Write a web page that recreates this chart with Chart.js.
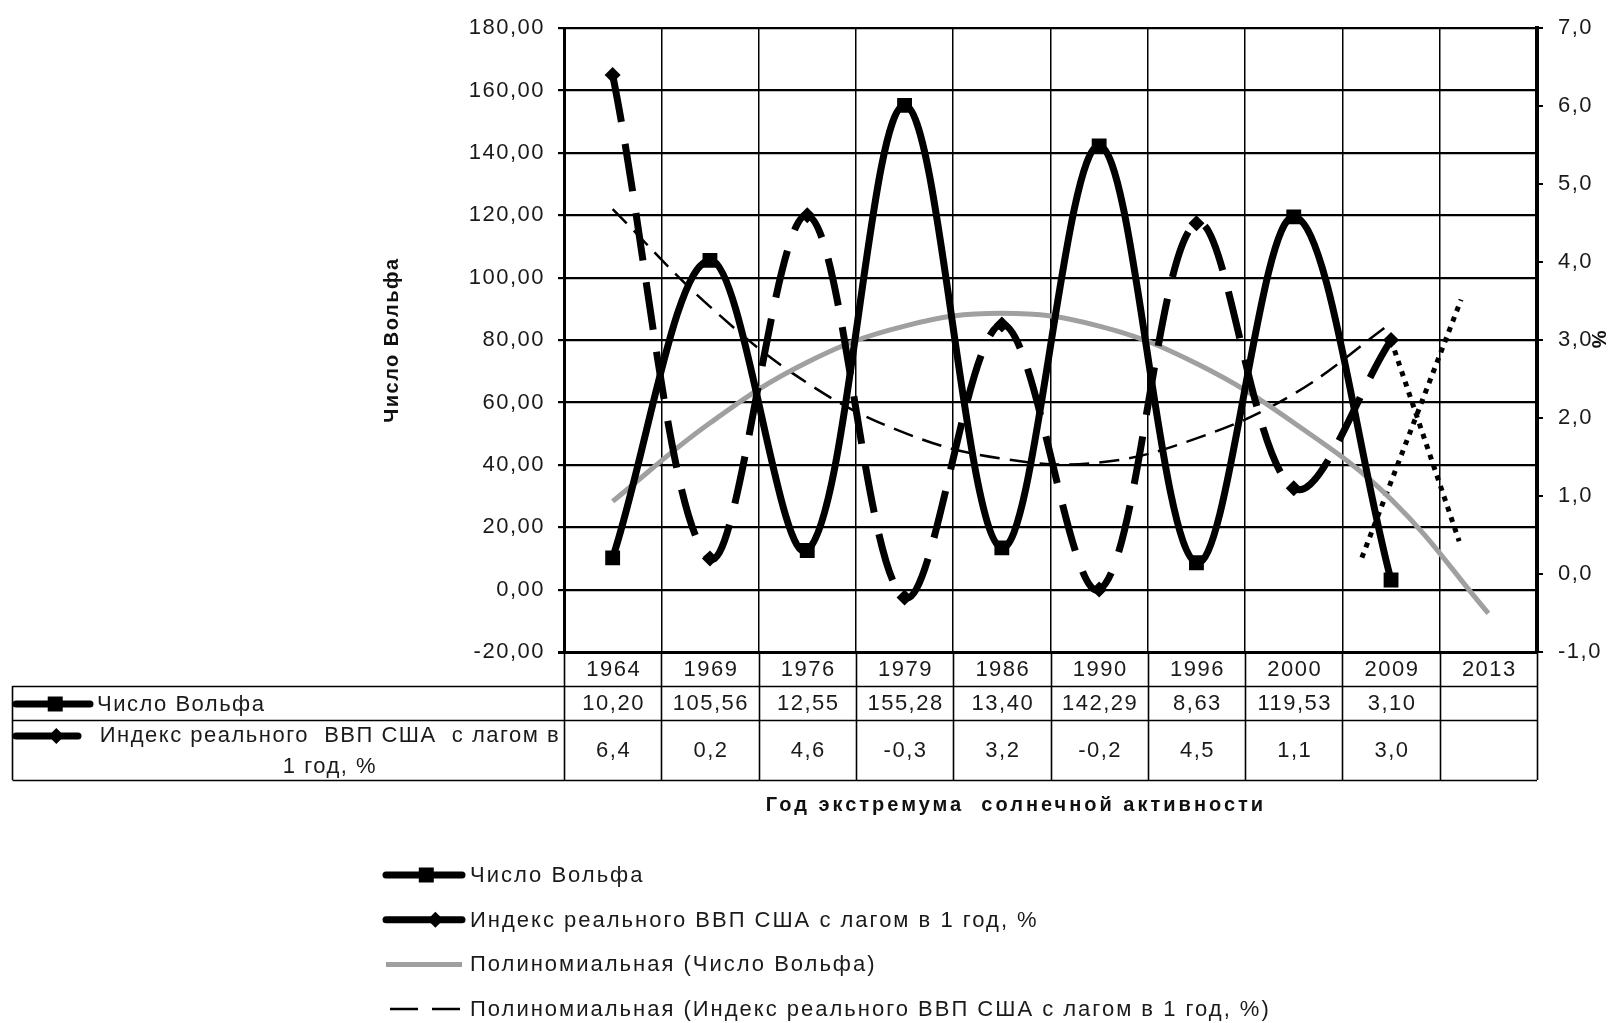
<!DOCTYPE html>
<html>
<head>
<meta charset="utf-8">
<title>Число Вольфа и индекс ВВП США</title>
<script src="https://cdn.jsdelivr.net/npm/chart.js@4.4.1/dist/chart.umd.min.js"></script>
<style>
  html, body { margin: 0; padding: 0; background: #fff; }
  #wrap { width: 1610px; height: 1023px; position: relative; }
</style>
</head>
<body>
<div id="wrap"><canvas id="solarChart"></canvas></div>
<script>
/*
  Solar activity (Wolf number) vs. US real GDP index, with the data table
  and legend drawn under the plot.
*/
const years = ["1964", "1969", "1976", "1979", "1986", "1990", "1996", "2000", "2009", "2013"];
const wolfNumber = [10.20, 105.56, 12.55, 155.28, 13.40, 142.29, 8.63, 119.53, 3.10, null];
const gdpIndex = [6.4, 0.2, 4.6, -0.3, 3.2, -0.2, 4.5, 1.1, 3.0, null];

// trend lines, one value per year column
const wolfTrend = [28.3, 53.4, 72.9, 84.5, 88.6, 84.5, 72.5, 53.5, 29, -7.6];
const gdpTrend = [4.68, 3.43, 2.45, 1.81, 1.48, 1.43, 1.74, 2.31, 3.22, null];

// the two dotted strokes near 2009-2013 (column index, % axis)
const riseX = [7.7, 8.72];
const riseY = [0.21, 3.52];
const fallX = [8.0, 8.7];
const fallY = [3.0, 0.42];

const wolfLabel = "Число Вольфа";
const gdpLabel = "Индекс реального ВВП США с лагом в 1 год, %";
const gdpHeaderLines = ["Индекс реального  ВВП США  с лагом в", "1 год, %"];
const wolfTrendLabel = "Полиномиальная (Число Вольфа)";
const gdpTrendLabel = "Полиномиальная (Индекс реального ВВП США с лагом в 1 год, %)";
const xTitle = "Год экстремума  солнечной активности";

const FONT = '"Liberation Sans", Arial, sans-serif';
const INK = "#1a1a1a";
const SPACING = 1.5;

function fmt(v, digits) {
  return Number(v).toFixed(digits).replace(".", ",");
}

function setFont(ctx, size, bold, spacing) {
  ctx.font = (bold ? "bold " : "") + size + "px " + FONT;
  ctx.letterSpacing = spacing + "px";
}

// little legend key: thick line with marker, gray trend line or dashed trend line
function drawKey(ctx, kind, x1, x2, y) {
  ctx.save();
  ctx.setLineDash([]);
  if (kind === "wolf" || kind === "gdp") {
    ctx.strokeStyle = "#000";
    ctx.lineWidth = 7;
    ctx.lineCap = "round";
    ctx.beginPath();
    ctx.moveTo(x1, y);
    ctx.lineTo(x2, y);
    ctx.stroke();
    ctx.fillStyle = "#000";
    ctx.beginPath();
    if (kind === "wolf") {
      const mx = x1 + (x2 - x1) * 0.53;
      ctx.rect(mx - 7.5, y - 7.5, 15, 15);
    } else {
      const mx = x1 + (x2 - x1) * 0.65;
      ctx.moveTo(mx - 8, y);
      ctx.lineTo(mx, y - 8);
      ctx.lineTo(mx + 8, y);
      ctx.lineTo(mx, y + 8);
      ctx.closePath();
    }
    ctx.fill();
  } else if (kind === "wolfTrend") {
    ctx.strokeStyle = "#a0a0a0";
    ctx.lineWidth = 5;
    ctx.beginPath();
    ctx.moveTo(x1, y);
    ctx.lineTo(x2, y);
    ctx.stroke();
  } else {
    ctx.strokeStyle = "#000";
    ctx.lineWidth = 2.5;
    ctx.setLineDash([28, 14]);
    ctx.beginPath();
    ctx.moveTo(x1 + 4, y);
    ctx.lineTo(x2, y);
    ctx.stroke();
  }
  ctx.restore();
}

const spacingPlugin = {
  id: "spacing",
  beforeUpdate(chart) { chart.ctx.letterSpacing = SPACING + "px"; },
  beforeDraw(chart) { chart.ctx.letterSpacing = SPACING + "px"; },
};

const tablePlugin = {
  id: "dataTable",
  afterDraw(chart) {
    const { ctx, chartArea } = chart;
    const xScale = chart.scales.x;
    const colW = (chartArea.right - chartArea.left) / years.length;
    const top = chartArea.bottom;
    const r1 = 686;
    const r2 = 720;
    const r3 = 780;
    const boxLeft = 12.5;

    ctx.save();
    ctx.strokeStyle = "#000";
    ctx.lineWidth = 1.6;
    ctx.beginPath();
    for (let i = 0; i <= years.length; i++) {
      const bx = Math.round(chartArea.left + i * colW) + 0.5;
      ctx.moveTo(bx, top);
      ctx.lineTo(bx, r3);
    }
    ctx.moveTo(boxLeft, r1);
    ctx.lineTo(boxLeft, r3);
    [r1, r2, r3].forEach((ry) => {
      ctx.moveTo(boxLeft, ry + 0.5);
      ctx.lineTo(chartArea.right, ry + 0.5);
    });
    ctx.stroke();

    ctx.fillStyle = INK;
    ctx.textAlign = "center";
    ctx.textBaseline = "middle";
    setFont(ctx, 22, false, SPACING);
    years.forEach((yr, i) => {
      const cx = xScale.getPixelForValue(i) + 1;
      ctx.fillText(yr, cx, 670);
      if (wolfNumber[i] !== null) ctx.fillText(fmt(wolfNumber[i], 2), cx, 704);
      if (gdpIndex[i] !== null) ctx.fillText(fmt(gdpIndex[i], 1), cx, 751);
    });

    // row headers
    drawKey(ctx, "wolf", 16, 90, 704);
    drawKey(ctx, "gdp", 16, 78, 736);
    ctx.fillStyle = INK;
    ctx.textAlign = "left";
    ctx.fillText(wolfLabel, 97, 705);
    ctx.textAlign = "center";
    ctx.fillText(gdpHeaderLines[0], 330, 736);
    ctx.fillText(gdpHeaderLines[1], 330, 767);

    // x axis title
    setFont(ctx, 20, true, 3);
    ctx.fillStyle = "#111";
    ctx.fillText(xTitle, 1016, 805);

    // legend
    const legendRows = [
      ["wolf", wolfLabel],
      ["gdp", gdpLabel],
      ["wolfTrend", wolfTrendLabel],
      ["gdpTrend", gdpTrendLabel],
    ];
    setFont(ctx, 22, false, 2);
    ctx.textAlign = "left";
    legendRows.forEach((row, i) => {
      const ly = 875 + i * 44.7;
      drawKey(ctx, row[0], 386, 462, ly);
      ctx.fillStyle = INK;
      ctx.fillText(row[1], 470, ly + 1);
    });
    ctx.restore();
  },
};

const tickFont = { size: 22, family: FONT };
const titleFont = { size: 20, family: FONT, weight: "bold" };

new Chart(document.getElementById("solarChart"), {
  type: "line",
  data: {
    labels: years,
    datasets: [
      {
        label: wolfLabel,
        data: wolfNumber,
        xAxisID: "x",
        yAxisID: "y",
        borderColor: "#000",
        backgroundColor: "#000",
        borderWidth: 7,
        tension: 0.35,
        pointStyle: "rect",
        pointRadius: 10.5,
        pointBorderWidth: 0,
        pointBackgroundColor: "#000",
      },
      {
        label: gdpLabel,
        data: gdpIndex,
        xAxisID: "x",
        yAxisID: "y2",
        borderColor: "#000",
        backgroundColor: "#000",
        borderWidth: 7,
        borderDash: [48, 22],
        tension: 0.35,
        pointStyle: "rectRot",
        pointRadius: 8,
        pointBorderWidth: 0,
        pointBackgroundColor: "#000",
      },
      {
        label: wolfTrendLabel,
        data: wolfTrend,
        xAxisID: "x",
        yAxisID: "y",
        borderColor: "#a0a0a0",
        borderWidth: 5,
        tension: 0.4,
        pointRadius: 0,
      },
      {
        label: gdpTrendLabel,
        data: gdpTrend,
        xAxisID: "x",
        yAxisID: "y2",
        borderColor: "#000",
        borderWidth: 2.5,
        borderDash: [20, 10],
        tension: 0.4,
        pointRadius: 0,
      },
      {
        label: "rise",
        data: riseX.map((x, i) => ({ x: x, y: riseY[i] })),
        xAxisID: "xLin",
        yAxisID: "y2",
        borderColor: "#000",
        borderWidth: 5,
        borderDash: [5, 6],
        pointRadius: 0,
      },
      {
        label: "fall",
        data: fallX.map((x, i) => ({ x: x, y: fallY[i] })),
        xAxisID: "xLin",
        yAxisID: "y2",
        borderColor: "#000",
        borderWidth: 5,
        borderDash: [5, 6],
        pointRadius: 0,
      },
    ],
  },
  options: {
    responsive: true,
    maintainAspectRatio: false,
    animation: false,
    layout: { padding: { left: 360, right: 0, top: 23, bottom: 371 } },
    plugins: {
      legend: { display: false },
      tooltip: { enabled: false },
    },
    scales: {
      x: {
        type: "category",
        offset: true,
        grid: { offset: true, color: "#000", lineWidth: 1.5, drawTicks: false },
        border: { display: false },
        ticks: { display: false },
        afterFit: (s) => { s.height = 0; },
      },
      xLin: { type: "linear", display: false, min: -0.5, max: 9.5 },
      y: {
        position: "left",
        min: -20,
        max: 180,
        ticks: {
          stepSize: 20,
          padding: 13,
          color: INK,
          font: tickFont,
          callback: (v) => fmt(v, 2),
        },
        grid: {
          color: "#000",
          lineWidth: (c) => (c.tick && c.tick.value === -20 ? 3 : 2.2),
          tickLength: 6,
        },
        border: { color: "#000", width: 3 },
        title: { display: true, text: wolfLabel, color: "#111", font: titleFont, padding: { top: 20, bottom: 0 } },
        afterFit: (s) => { s.width = 204; },
      },
      y2: {
        position: "right",
        min: -1,
        max: 7,
        ticks: {
          stepSize: 1,
          padding: 15,
          color: INK,
          font: tickFont,
          callback: (v) => fmt(v, 1),
        },
        grid: { drawOnChartArea: false, color: "#000", lineWidth: 2, tickLength: 6 },
        border: { color: "#000", width: 4 },
        title: { display: true, text: "%", color: "#111", font: { size: 20, family: FONT, weight: "bold" }, padding: { top: 0, bottom: 0 } },
        afterFit: (s) => { s.width = 73; },
      },
    },
  },
  plugins: [spacingPlugin, tablePlugin],
});
</script>
</body>
</html>
